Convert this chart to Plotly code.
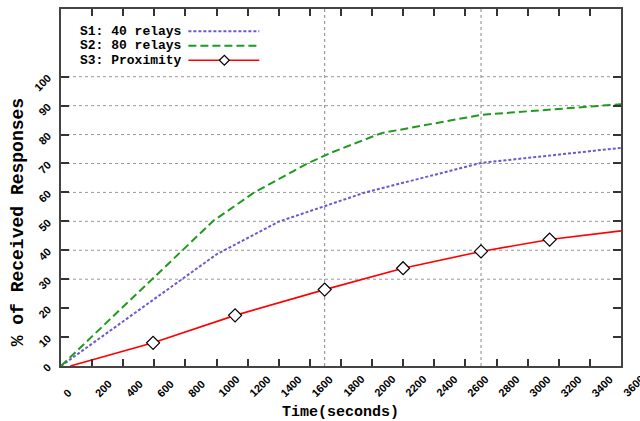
import plotly.graph_objects as go

# ---- data ----
s1_x = [0, 1000, 1400, 1740, 1950, 2700, 3600]
s1_y = [0, 38.6, 49.9, 56.2, 59.9, 70.2, 75.4]

s2_x = [0, 980, 1240, 1580, 1730, 2060, 2700, 3600]
s2_y = [0, 50.2, 59.9, 69.9, 73.6, 80.5, 86.8, 90.5]

s3_x = [60, 592, 1119, 1695, 2199, 2700, 3141, 3600]
s3_y = [0, 8.0, 17.5, 26.4, 33.8, 39.6, 43.7, 46.7]

x_ticks = list(range(0, 3601, 200))
y_ticks = list(range(0, 101, 10))
y_grid = [30, 40, 50, 60, 70, 80, 90, 100]
x_grid = [1695, 2700]

legend_names = ["S1: 40 relays", "S2: 80 relays", "S3: Proximity"]

# ---- styling ----
C1 = "#6a5acd"
C2 = "#1f9a1f"
C3 = "#ff0000"
MONO = "Liberation Mono, Courier New, monospace"
SANS = "Liberation Sans, Arial, sans-serif"

W, H = 640, 421
L, R, T, B = 60.5, 19, 7, 55
PW, PH = W - L - R, H - T - B


def px(xp):
    return (xp - L) / PW


def py(yp):
    return (H - B - yp) / PH


fig = go.Figure()

fig.add_trace(go.Scatter(x=s1_x, y=s1_y, mode="lines",
                         line=dict(color=C1, width=2, dash="3px,2px"),
                         showlegend=False))
fig.add_trace(go.Scatter(x=s2_x, y=s2_y, mode="lines",
                         line=dict(color=C2, width=2, dash="8px,4px"),
                         showlegend=False))
fig.add_trace(go.Scatter(x=s3_x, y=s3_y, mode="lines",
                         line=dict(color=C3, width=1.6),
                         showlegend=False))
fig.add_trace(go.Scatter(x=s3_x[1:-1], y=s3_y[1:-1], mode="markers",
                         marker=dict(symbol="diamond", size=10, color="white",
                                     line=dict(color="black", width=1.2)),
                         showlegend=False))

shapes = []
for g in y_grid:
    shapes.append(dict(type="line", xref="paper", x0=0, x1=1, yref="y", y0=g, y1=g,
                       line=dict(color="#999", width=1, dash="dot"), layer="below"))
for g in x_grid:
    shapes.append(dict(type="line", yref="paper", y0=0, y1=1, xref="x", x0=g, x1=g,
                       line=dict(color="#888", width=1, dash="dot"), layer="below"))

# legend (gnuplot style: text then sample)
leg_y = [29.5, 44, 58.5]
styles = [dict(color=C1, width=2, dash="3px,2px"),
          dict(color=C2, width=2, dash="8px,4px"),
          dict(color=C3, width=1.6)]
annotations = []
for name, yy, st in zip(legend_names, leg_y, styles):
    annotations.append(dict(text=name, x=px(78), y=py(yy), xref="paper", yref="paper",
                            xanchor="left", yanchor="middle", showarrow=False,
                            font=dict(family=MONO, size=13, color="black", weight="bold")))
    shapes.append(dict(type="line", xref="paper", yref="paper", x0=px(188), x1=px(259),
                       y0=py(yy), y1=py(yy), line=st))
# diamond in legend
cx, cy, r = 224, leg_y[2], 5
shapes.append(dict(type="path", xref="paper", yref="paper",
                   path=f"M {px(cx - r)} {py(cy)} L {px(cx)} {py(cy - r)} L {px(cx + r)} {py(cy)} L {px(cx)} {py(cy + r)} Z",
                   fillcolor="white", line=dict(color="black", width=1.2)))

# x tick labels (rotated, starting at the tick)
for v in x_ticks:
    annotations.append(dict(text=str(v), x=v, xref="x", y=0, yref="paper",
                            xanchor="left", yanchor="bottom", yshift=-36, xshift=-3,
                            textangle=-45, showarrow=False,
                            font=dict(family=SANS, size=11, color="black", weight="bold")))

# axis titles
annotations.append(dict(text="Time(seconds)", x=px(340), y=py(413), xref="paper", yref="paper",
                        xanchor="center", yanchor="middle", showarrow=False,
                        font=dict(family=MONO, size=15, color="black", weight="bold")))
annotations.append(dict(text="% of Received Responses", x=px(17), y=py(222), xref="paper",
                        yref="paper", xanchor="center", yanchor="middle", textangle=-90,
                        showarrow=False,
                        font=dict(family=MONO, size=18, color="black", weight="bold")))

fig.update_layout(
    width=W, height=H,
    margin=dict(l=L, r=R, t=T, b=B),
    paper_bgcolor="white", plot_bgcolor="white",
    shapes=shapes, annotations=annotations,
    showlegend=False,
)
fig.update_xaxes(range=[0, 3600], tickvals=x_ticks, showticklabels=False,
                 ticks="inside", ticklen=7, tickwidth=1.5, tickcolor="#333",
                 showline=True, linecolor="#444", linewidth=1.5, mirror="ticks",
                 showgrid=False, zeroline=False)
fig.update_yaxes(range=[0, 123.4], tickvals=y_ticks, ticks="inside", ticklen=8,
                 tickwidth=1.5, tickcolor="#333", tickangle=-45, ticklabelstandoff=9,
                 tickfont=dict(family=SANS, size=11, color="black", weight="bold"),
                 showline=True, linecolor="#444", linewidth=1.5, mirror="ticks",
                 showgrid=False, zeroline=False)

fig.write_html("out.html")
